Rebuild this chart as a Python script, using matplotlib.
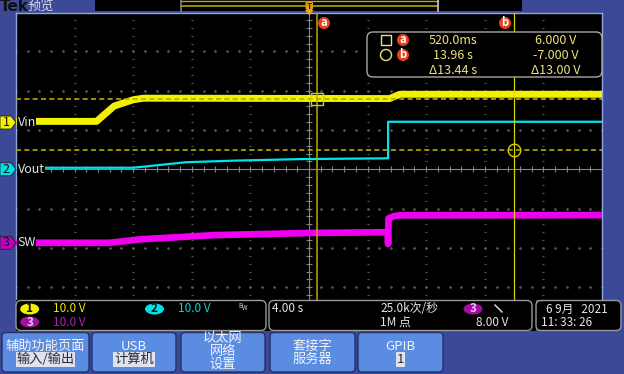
import numpy as np
import matplotlib.pyplot as plt
from matplotlib.patches import Rectangle, FancyBboxPatch, Polygon, Circle, Ellipse

plt.rcParams['font.family'] = ['Noto Sans CJK SC', 'DejaVu Sans']

# scope settings (4 s/div, 10 V/div on every channel)
sec_per_div = 4.0
volt_per_div = 10.0
gnd_div = {1: 1.19, 2: 0.0, 3: -1.87}   # ground marker of each channel, in divisions

# ch1 Vin
vin_t = [-20, -14.5, -13.3, -12.0, -11.3, 5.5, 6.2, 20]
vin_v = [0.3, 0.3, 4.2, 5.8, 6.2, 6.1, 7.2, 7.2]
# ch2 Vout
vout_t = [-20, -12.0, -10.2, -8.4, -5.2, -0.6, 5.4, 5.4, 20]
vout_v = [0.4, 0.4, 1.1, 1.8, 2.2, 2.6, 2.8, 12.1, 12.1]
# ch3 SW
sw_t = [-20, -13.6, -11.5, -6.5, 0.0, 5.37, 5.40, 5.43, 5.8, 6.2, 20]
sw_v = [0.0, 0.0, 0.9, 1.95, 2.5, 2.7, -0.3, 6.2, 6.8, 7.0, 7.05]

# cursors (on ch1)
cursor_t = [0.52, 13.96]
cursor_v = [6.0, -7.0]
readout = [['520.0ms', '6.000 V'], ['13.96 s', '-7.000 V'], ['\u039413.44 s', '\u039413.00 V']]

W, H = 624, 374
BG = '#3b4996'
BTN = '#5a8ce2'


def rect(x0, y0, x1, y1):
    return [x0 / W, 1 - y1 / H, (x1 - x0) / W, (y1 - y0) / H]


def to_div(ch, v):
    return gnd_div[ch] + np.asarray(v) / volt_per_div


fig = plt.figure(figsize=(W / 100, H / 100), dpi=100, facecolor=BG)

# ---- graticule ----
ax = fig.add_axes(rect(16, 12.7, 602, 300), zorder=1)
ax.set_facecolor('black')
ax.set_xlim(-5 * sec_per_div, 5 * sec_per_div)
ax.set_ylim(-3.325, 3.985)
ax.set_xticks([])
ax.set_yticks([])
for s in ax.spines.values():
    s.set_color('#8ea8dc')
    s.set_linewidth(1)
ax.spines['bottom'].set_visible(False)

dot_y = np.arange(-3.2, 4.0, 0.2)
dot_x = np.arange(-20, 20.01, 0.8)
for gx in np.arange(-16, 17, 4):
    if gx != 0:
        ax.plot(np.full(dot_y.size, gx), dot_y, ls='none', marker='_', ms=1.6, mew=0.8, color='#5c5c5c')
for gy in [-3, -2, -1, 1, 2, 3]:
    ax.plot(dot_x, np.full(dot_x.size, gy), ls='none', marker='s', ms=0.8, color='#5c5c5c')
ax.axvline(0, color='#858585', lw=0.8)
ax.axhline(0, color='#858585', lw=0.8)
ax.plot(np.zeros(dot_y.size), dot_y, ls='none', marker='_', ms=4.5, mew=0.8, color='#858585')
ax.plot(dot_x, np.zeros(dot_x.size), ls='none', marker='|', ms=4.5, mew=0.8, color='#858585')

# traces
ax.plot(vin_t, to_div(1, vin_v), color='#f2f200', lw=5, solid_joinstyle='round', zorder=3)
ax.plot(vout_t, to_div(2, vout_v), color='#00e4ee', lw=1.6, zorder=3)
ax.plot(sw_t, to_div(3, sw_v), color='#f000f0', lw=4.8, solid_joinstyle='round', zorder=3)

# cursors
ax.axvline(cursor_t[0], color='#b4ac00', lw=1.1, zorder=4)
ax.axvline(cursor_t[1], color='#d8d400', lw=0.9, zorder=4)
for v in cursor_v:
    ax.axhline(to_div(1, v), color='#b4ac00', lw=1.2, dashes=(3, 2), zorder=4)
ax.plot(cursor_t[0], to_div(1, cursor_v[0]), marker='s', ms=8, mfc='none', mec='#d8d000', mew=1, zorder=5)
ax.plot(cursor_t[1], to_div(1, cursor_v[1]), marker='o', ms=9, mfc='none', mec='#d8d000', mew=1, zorder=5)

# ---- screen chrome, pixel coordinates ----
ui = fig.add_axes([0, 0, 1, 1], zorder=3)
ui.set_xlim(0, W)
ui.set_ylim(H, 0)
ui.axis('off')
ui.patch.set_visible(False)

# top bar
ui.text(0, 6, 'Tek', color='#101010', fontsize=11, fontweight='bold', va='center', family='DejaVu Sans')
ui.text(27, 6, '预览', color='#d8d8e8', fontsize=9.5, va='center')
ui.add_patch(Rectangle((95, 0), 427, 11, fc='black', ec='none'))
ui.plot([181, 438], [1.2, 1.2], color='#b0a800', lw=1)
ui.plot([181, 438], [5.7, 5.7], color='#b0a800', lw=1.2)
ui.plot([181, 181], [0, 11], color='#808080', lw=1.2)
ui.plot([438, 438], [0, 11], color='#c8c8c8', lw=1.2)
ui.add_patch(FancyBboxPatch((305.5, 1.5), 7.5, 8.5, boxstyle='round,pad=0,rounding_size=2',
                            fc='#f5a020', ec='none'))
ui.text(309.3, 6, 'T', color='#402000', fontsize=6, ha='center', va='center', fontweight='bold')
ui.add_patch(Polygon([(305, 10), (313.5, 10), (309.3, 15.5)], fc='#f5a020', ec='none'))


# circled cursor names
def badge(x, y, s):
    ui.add_patch(Circle((x, y), 6, fc='#e8401a', ec='none'))
    ui.text(x, y - 0.5, s, color='white', fontsize=8, fontweight='bold', ha='center', va='center')


badge(324, 23, 'a')
badge(505, 23, 'b')

# cursor readout
ui.add_patch(FancyBboxPatch((367, 32), 235, 45, boxstyle='round,pad=0,rounding_size=6',
                            fc='black', ec='#a8a8a8', lw=1))
txt_c = '#ece27a'
row_y = [40, 55, 70]
ui.add_patch(Rectangle((381, 35), 10, 10, fc='none', ec=txt_c, lw=1))
ui.add_patch(Circle((386, 55), 5.5, fc='none', ec=txt_c, lw=1))
badge(403, 40, 'a')
badge(403, 55, 'b')
for (tv, vv), y in zip(readout, row_y):
    ui.text(453, y, tv, color=txt_c, fontsize=9, ha='center', va='center')
    ui.text(556, y, vv, color=txt_c, fontsize=9, ha='center', va='center')

# channel markers and labels
ch_color = {1: '#f2f200', 2: '#00e0ea', 3: '#c000c0'}
ch_name = {1: 'Vin', 2: 'Vout', 3: 'SW'}
for ch in (1, 2, 3):
    yp = 169.3 - gnd_div[ch] * 39.3
    ui.add_patch(Polygon([(0, yp - 6.5), (11, yp - 6.5), (16, yp), (11, yp + 6.5), (0, yp + 6.5)],
                         fc=ch_color[ch], ec='#202020', lw=0.6))
    ui.text(6, yp, str(ch), color='#101010', fontsize=9, ha='center', va='center')
    ui.text(17.5, yp, ch_name[ch], color='#e4e4e4', fontsize=9, ha='left', va='center',
            bbox=dict(fc='black', ec='none', pad=0.3))

# status bar
ui.add_patch(Rectangle((16, 300), 520, 31, fc='black', ec='none'))
for x0, x1 in [(16, 266), (269, 532), (536, 621)]:
    ui.add_patch(FancyBboxPatch((x0, 300.5), x1 - x0, 30, boxstyle='round,pad=0,rounding_size=5',
                                fc='black', ec='#9a9a9a', lw=1))
s1, s2 = 309, 322


def ch_pill(x, y, ch, fc, tc):
    ui.add_patch(Ellipse((x, y), 19, 11, fc=fc, ec='none'))
    ui.text(x, y, ch, color=tc, fontsize=8.5, ha='center', va='center', fontweight='bold')


ch_pill(29.7, s1, '1', '#f0f000', '#101010')
ui.text(53, s1, '10.0 V', color='#e8e800', fontsize=8.5, va='center')
ch_pill(154.5, s1, '2', '#00e0ea', '#101010')
ui.text(178, s1, '10.0 V', color='#00d8e0', fontsize=8.5, va='center')
ui.text(238, s1 - 3, 'B', color='#d8d8d8', fontsize=4.5, va='center')
ui.text(242, s1 - 1, 'W', color='#d8d8d8', fontsize=4.5, va='center')
ch_pill(29.7, s2, '3', '#a010a0', '#f0c0f0')
ui.text(53, s2, '10.0 V', color='#b020b0', fontsize=8.5, va='center')

st_c = '#e6e6e6'
ui.text(272, s1, '4.00 s', color=st_c, fontsize=8.5, va='center')
ui.text(380, s1, '25.0k次/秒', color=st_c, fontsize=8.5, va='center')
ui.text(380, s2, '1M 点', color=st_c, fontsize=8.5, va='center')
ch_pill(473, s1, '3', '#a010a0', '#f0c0f0')
ui.plot([495, 502], [s1 - 4, s1 + 3], color=st_c, lw=1)
ui.text(508, s2, '8.00 V', color=st_c, fontsize=8.5, ha='right', va='center')
ui.text(546, s1, '6 9月   2021', color=st_c, fontsize=8.5, va='center')
ui.text(541, s2, '11: 33: 26', color=st_c, fontsize=8.5, va='center')

# soft keys
buttons = [
    (2, 89, [('辅助功能页面', 346.5, False), ('输入/输出', 359.5, True)]),
    (92, 176, [('USB', 346.5, False), ('计算机', 359.5, True)]),
    (181, 265, [('以太网', 338.5, False), ('网络', 351.5, False), ('设置', 364.5, False)]),
    (270, 355, [('套接字', 346.5, False), ('服务器', 359.5, False)]),
    (358, 443, [('GPIB', 346.5, False), ('1', 359.5, True)]),
]
for x0, x1, lines in buttons:
    ui.add_patch(FancyBboxPatch((x0, 332.5), x1 - x0, 39.5, boxstyle='round,pad=0,rounding_size=4',
                                fc=BTN, ec='#24306a', lw=1))
    for s, y, hl in lines:
        if hl:
            ui.text((x0 + x1) / 2, y, s, color='#2a2a3a', fontsize=9.5, ha='center', va='center',
                    bbox=dict(fc='#dfe3ee', ec='none', pad=0.5))
        else:
            ui.text((x0 + x1) / 2, y, s, color='#f4f4f4', fontsize=9.5, ha='center', va='center')

fig.savefig('out.png', dpi=100, facecolor=BG)
